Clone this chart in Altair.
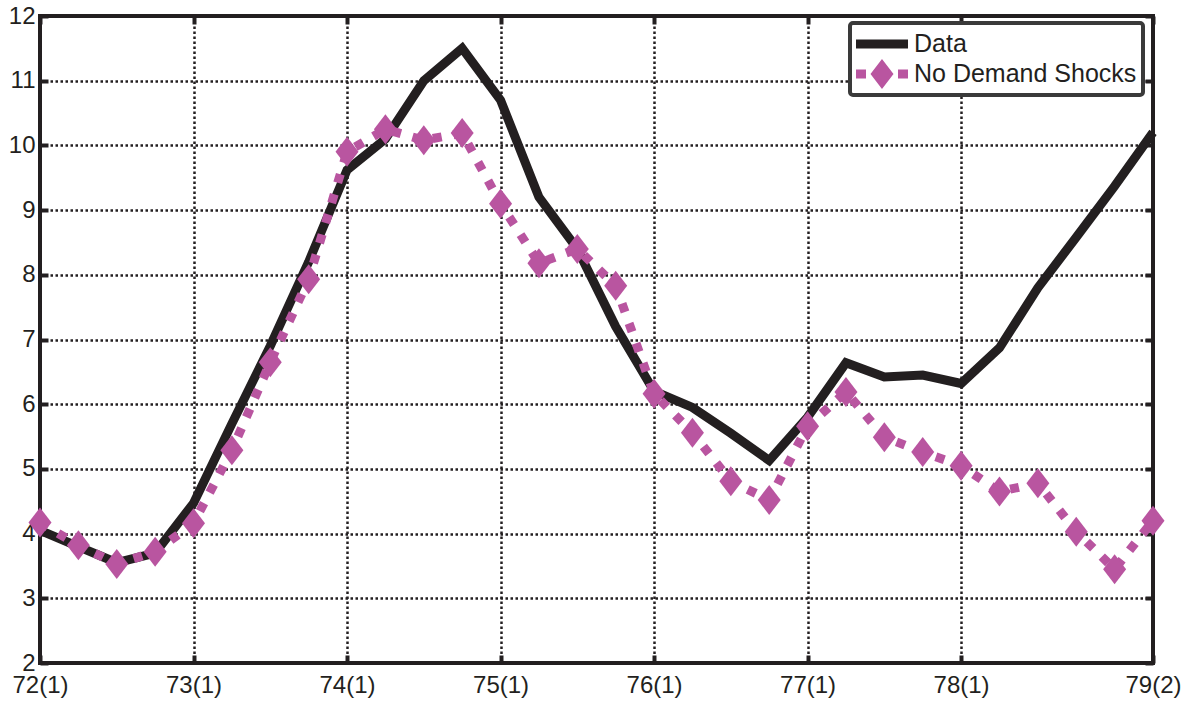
import altair as alt
import pandas as pd

# ---------------- data ----------------
quarters = [f"{y}({q})" for y in range(72, 80) for q in range(1, 5)][:30]

data_values = [4.05, 3.8, 3.55, 3.7, 4.47, 5.7, 6.9, 8.2, 9.62, 10.1,
               11.0, 11.5, 10.7, 9.2, 8.4, 7.2, 6.2, 5.95, 5.55, 5.13,
               5.8, 6.64, 6.42, 6.45, 6.32, 6.87, 7.8, 8.58, 9.37, 10.2]

nds_values = [4.17, 3.82, 3.53, 3.72, 4.16, 5.29, 6.65, 7.93, 9.9, 10.25,
              10.08, 10.19, 9.1, 8.18, 8.4, 7.83, 6.16, 5.56, 4.81, 4.52,
              5.66, 6.19, 5.49, 5.26, 5.05, 4.65, 4.78, 4.03, 3.45, 4.2]

series_names = ["Data", "No Demand Shocks"]
x_tick_labels = ["72(1)", "73(1)", "74(1)", "75(1)", "76(1)", "77(1)", "78(1)", "79(2)"]
y_ticks = [2, 3, 4, 5, 6, 7, 8, 9, 10, 11, 12]

# ---------------- styles ----------------
BLACK = "#231f20"
MAGENTA = "#b955a0"
FONT = "Liberation Sans"
DIAMOND = "M-0.767,0L0,-1L0.767,0L0,1Z"
LEG_BAR = "M-1,-0.3L2.467,-0.3L2.467,0.3L-1,0.3Z"
LEG_NDS = ("M-1,-0.3L-0.333,-0.3L-0.333,0.3L-1,0.3Z "
           "M-0.033,0L0.733,-1L1.5,0L0.733,1Z "
           "M1.8,-0.3L2.467,-0.3L2.467,0.3L1.8,0.3Z")

df_data = pd.DataFrame({"quarter": quarters, "value": data_values})
df_nds = pd.DataFrame({"quarter": quarters, "value": nds_values})
df_leg = pd.DataFrame({"series": series_names})

x_scale = alt.Scale(type="point", padding=0, domain=quarters)
y_scale = alt.Scale(domain=[2, 12], nice=False, zero=False)


def grid_axis(orient, values, **kw):
    return alt.Axis(orient=orient, values=values, grid=True, gridDash=[2.5, 2.5],
                    gridColor=BLACK, gridWidth=2.5, gridOpacity=1, ticks=False,
                    tickSize=0, domain=False, labelFont=FONT, labelFontSize=24,
                    labelColor=BLACK, labelOverlap=False, title=None, **kw)


def tick_axis(orient, values):
    return alt.Axis(orient=orient, values=values, grid=False, labels=False,
                    domain=False, ticks=True, tickSize=8, tickWidth=4,
                    tickColor=BLACK, tickOpacity=1, offset=-8, title=None)


data_line = alt.Chart(df_data).mark_line(color=BLACK, strokeWidth=9, strokeJoin="miter").encode(
    x=alt.X("quarter:O", scale=x_scale,
            axis=grid_axis("bottom", x_tick_labels, labelAngle=0, labelPadding=10)),
    y=alt.Y("value:Q", scale=y_scale,
            axis=grid_axis("left", y_ticks, labelPadding=5)),
)

nds_line = alt.Chart(df_nds).mark_line(color=MAGENTA, strokeWidth=9,
                                       strokeDash=[9, 12], strokeCap="butt").encode(
    x=alt.X("quarter:O", scale=x_scale, axis=tick_axis("bottom", x_tick_labels)),
    y=alt.Y("value:Q", scale=y_scale, axis=tick_axis("left", y_ticks)),
)

nds_points = alt.Chart(df_nds).mark_point(shape=DIAMOND, filled=True, size=900,
                                          color=MAGENTA, opacity=1, strokeWidth=0).encode(
    x=alt.X("quarter:O", scale=x_scale, axis=tick_axis("top", x_tick_labels)),
    y=alt.Y("value:Q", scale=y_scale, axis=tick_axis("right", y_ticks)),
)

legend = alt.Legend(title=None, orient="none", legendX=810, legendY=7,
                    symbolSize=900, symbolStrokeWidth=0, symbolOpacity=1,
                    labelFont=FONT, labelFontSize=25, labelColor=BLACK,
                    labelOffset=28, labelLimit=400, padding=6, rowPadding=2,
                    strokeColor="#3a3a3a", fillColor="white", cornerRadius=3)

legend_layer = alt.Chart(df_leg).transform_filter("false").mark_point(
    filled=True, opacity=1, strokeWidth=0).encode(
    color=alt.Color("series:N", scale=alt.Scale(domain=series_names, range=[BLACK, MAGENTA]),
                    legend=legend),
    shape=alt.Shape("series:N", scale=alt.Scale(domain=series_names, range=[LEG_BAR, LEG_NDS]),
                    legend=legend),
)

chart = alt.layer(data_line, nds_line, nds_points, legend_layer).resolve_axis(
    x="independent", y="independent"
).properties(
    width=1113, height=647,
    autosize=alt.AutoSizeParams(type="none"),
    padding={"left": 40, "top": 16, "right": 40, "bottom": 39},
).configure_view(
    stroke=BLACK, strokeWidth=4
).configure_legend(
    strokeWidth=4
)

chart.save("out.html", embed_options={"renderer": "svg", "actions": False})
